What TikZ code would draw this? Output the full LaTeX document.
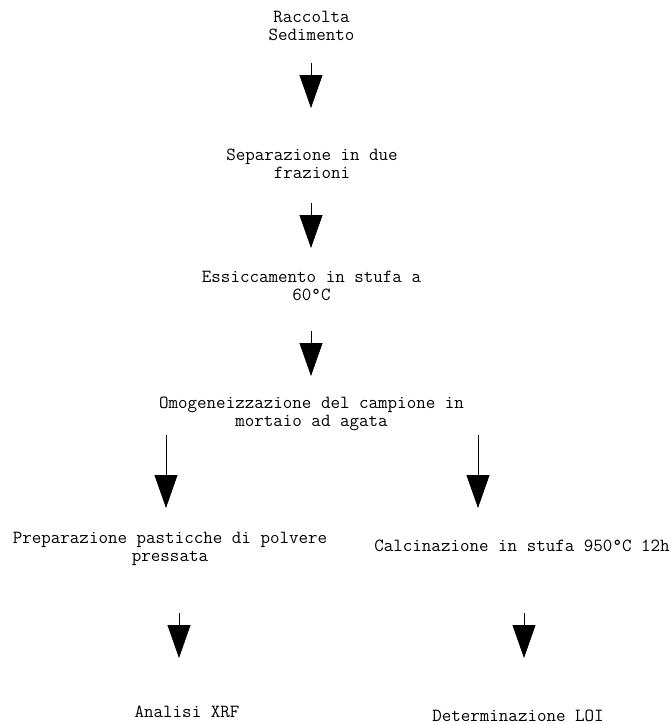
\documentclass[tikz,border=0pt]{standalone}
\usepackage{fontspec}
\usetikzlibrary{arrows.meta}
\newcommand{\mylines}[2]{\begin{tabular}[t]{@{}c@{}}#1\\#2\end{tabular}}
\tikzset{
  lbl/.style={align=center, inner sep=0pt, anchor=base, font=\ttfamily\fontsize{18.5}{18}\selectfont},
  flow/.style={line width=0.8pt, -{Triangle[width=23pt,length=33pt]}}
}
\begin{document}
\begin{tikzpicture}[x=1pt,y=-1pt]
\useasboundingbox (0,0) rectangle (672,724);
\node[lbl] (n1) at (311.5,22.5) {\mylines{Raccolta}{Sedimento}};
\node[lbl] (n2) at (312,160.5) {\mylines{Separazione in due}{frazioni}};
\node[lbl] (n3) at (311.5,282.5) {\mylines{Essiccamento in stufa a}{60°C}};
\node[lbl] (n4) at (311.5,408.5) {\mylines{Omogeneizzazione del campione in}{mortaio ad agata}};
\node[lbl] (n5) at (170,543.5) {\mylines{Preparazione pasticche di polvere}{pressata}};
\node[lbl] (n6) at (522,551.5) {Calcinazione in stufa 950°C 12h};
\node[lbl] (n7) at (187,717) {Analisi XRF};
\node[lbl] (n8) at (518,721) {Determinazione LOI};
\coordinate (a1s) at (311,63); \coordinate (a1e) at (311,108);
\coordinate (a2s) at (311,203); \coordinate (a2e) at (311,248);
\coordinate (a3s) at (311,331); \coordinate (a3e) at (311,376);
\coordinate (a4s) at (166,435); \coordinate (a4e) at (166,508);
\coordinate (a5s) at (478,435); \coordinate (a5e) at (478,508);
\coordinate (a6s) at (179,613); \coordinate (a6e) at (179,658);
\coordinate (a7s) at (524,613); \coordinate (a7e) at (524,658);
\draw[flow] (a1s) -- (a1e);
\draw[flow] (a2s) -- (a2e);
\draw[flow] (a3s) -- (a3e);
\draw[flow] (a4s) -- (a4e);
\draw[flow] (a5s) -- (a5e);
\draw[flow] (a6s) -- (a6e);
\draw[flow] (a7s) -- (a7e);
\end{tikzpicture}
\end{document}
